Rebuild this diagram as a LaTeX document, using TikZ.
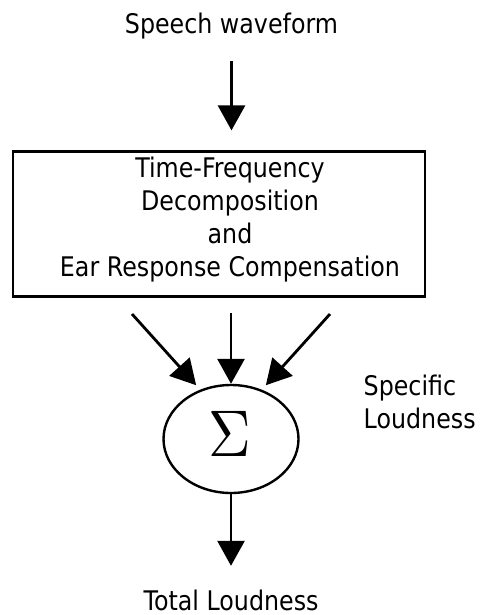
\documentclass[tikz,border=0pt]{standalone}
\usepackage{fontspec}
\usepackage{graphicx}
\setmainfont{DejaVu Sans}[FakeStretch=0.88]
\usetikzlibrary{arrows.meta,shapes.geometric}

\tikzset{
  label text/.style={inner sep=0pt, font=\fontsize{27}{33}\selectfont},
  arr/.style={line width=2.8pt, -{Triangle[length=25pt,width=27pt]}},
  stage/.style={draw, line width=2.6pt, rectangle, inner sep=0pt},
  summer/.style={draw, line width=2.4pt, ellipse, inner sep=0pt,
                 minimum width=135pt, minimum height=108pt},
}

\begin{document}
\begin{tikzpicture}[x=1pt, y=-1pt]
  \useasboundingbox (0,0) rectangle (480,615);

  % input label
  \node[label text, anchor=base] (speech) at (231.5,33.3) {Speech waveform};

  % analysis stage
  \node[stage, minimum width=412pt, minimum height=145pt] (box) at (219,224.2) {};
  \node[label text, align=center] (boxtext) at (230,220)
    {Time-Frequency\\Decomposition\\and\\Ear Response Compensation};

  % summation
  \node[summer] (sum) at (231,439) {};
  \node[inner sep=0pt] (sigma) at (230,434) {\scalebox{5.9}[6.6]{$\Sigma$}};

  % side label
  \node[label text, align=left, anchor=west] (spec) at (363.5,402) {Specific\\Loudness};

  % output label
  \node[label text, anchor=base] (total) at (231,610) {Total Loudness};

  % outputs of the analysis stage
  \coordinate (l0) at (132,314);
  \coordinate (m0) at (231,313);
  \coordinate (r0) at (330,314);

  % connectors
  \draw[arr, shorten <=22pt, shorten >=20pt] (speech.south) -- (speech.south |- box.north);
  \draw[arr, shorten >=6pt] (l0) -- (sum.122);
  \draw[arr] (m0) -- (sum.north);
  \draw[arr, shorten >=6pt] (r0) -- (sum.58);
  \draw[arr, shorten >=23.5pt] (sum.south) -- (total.north);
\end{tikzpicture}
\end{document}
